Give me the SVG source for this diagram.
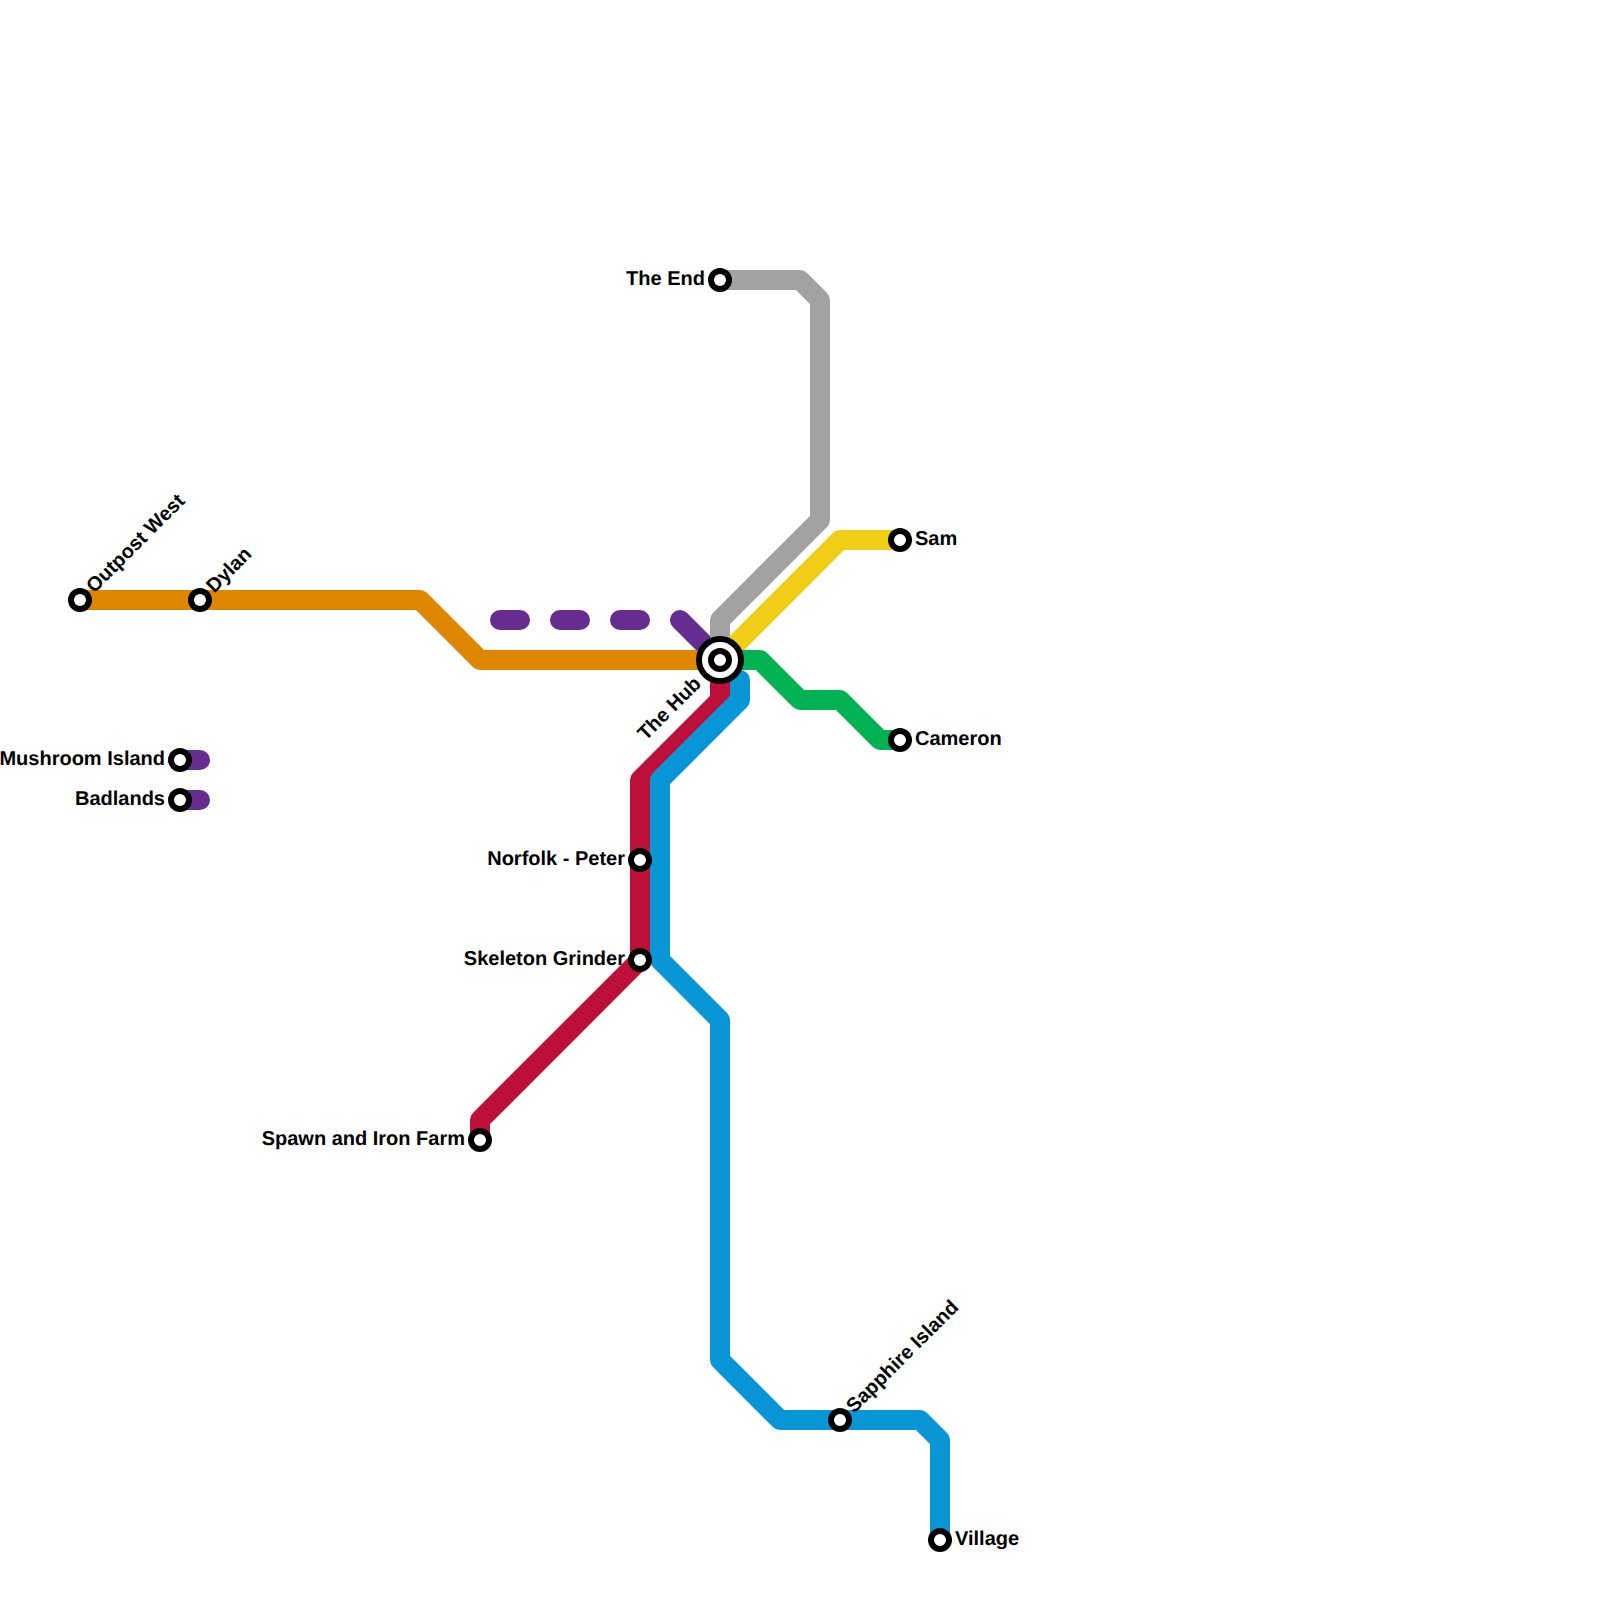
<svg xmlns="http://www.w3.org/2000/svg" width="1600" height="1600" viewBox="0 0 1600 1600">
<style>
.line{fill:none;stroke-width:20;stroke-linecap:round;stroke-linejoin:round}
.orange{stroke:#df8600}.gray{stroke:#a2a2a2}.yellow{stroke:#f0ce15}.green{stroke:#00b251}.red{stroke:#bd1038}.blue{stroke:#0896d7}.purple{stroke:#662c90}
.st{fill:#fff;stroke:#000;stroke-width:6}
text{font-family:"Liberation Sans",Arial,sans-serif;font-size:20px;font-weight:700;fill:#000;dominant-baseline:central;text-rendering:geometricPrecision}
.e{text-anchor:end}
</style>
<rect width="1600" height="1600" fill="#fff"/>
<g id="connectors">
<path class="line purple" d="M500 620H520M560 620H580M620 620H640M680 620L720 660M180 760H200M180 800H200"/>
<path class="line gray" d="M720 280H800L820 300V520L720 620V660"/>
<path class="line yellow" d="M720 660L840 540H900"/>
<path class="line green" d="M720 660H760L800 700H840L880 740H900"/>
<path class="line orange" d="M80 600H420L480 660H720"/>
<path class="line red" d="M720 660V700L640 780V960L480 1120V1140"/>
<path class="line blue" d="M740 680V700L660 780V960L720 1020V1360L780 1420H920L940 1440V1540"/>
</g>
<g id="node-hub"><circle cx="720" cy="660" r="21" fill="#fff" stroke="#000" stroke-width="6"/><circle class="st" cx="720" cy="660" r="9"/><text class="e" transform="translate(698 680.5) rotate(-45)">The Hub</text></g>
<g id="node-outpost-west"><circle class="st" cx="80" cy="600" r="9"/><text transform="translate(90 589.5) rotate(-45)">Outpost West</text></g>
<g id="node-dylan"><circle class="st" cx="200" cy="600" r="9"/><text transform="translate(210 589.5) rotate(-45)">Dylan</text></g>
<g id="node-mushroom-island"><circle class="st" cx="180" cy="760" r="9"/><text class="e" x="165" y="759">Mushroom Island</text></g>
<g id="node-badlands"><circle class="st" cx="180" cy="800" r="9"/><text class="e" x="165" y="799">Badlands</text></g>
<g id="node-the-end"><circle class="st" cx="720" cy="280" r="9"/><text class="e" x="705" y="279">The End</text></g>
<g id="node-sam"><circle class="st" cx="900" cy="540" r="9"/><text x="915" y="539">Sam</text></g>
<g id="node-cameron"><circle class="st" cx="900" cy="740" r="9"/><text x="915" y="739">Cameron</text></g>
<g id="node-norfolk-peter"><circle class="st" cx="640" cy="860" r="9"/><text class="e" x="625" y="859">Norfolk - Peter</text></g>
<g id="node-skeleton-grinder"><circle class="st" cx="640" cy="960" r="9"/><text class="e" x="625" y="959">Skeleton Grinder</text></g>
<g id="node-spawn"><circle class="st" cx="480" cy="1140" r="9"/><text class="e" x="465" y="1139">Spawn and Iron Farm</text></g>
<g id="node-sapphire-island"><circle class="st" cx="840" cy="1420" r="9"/><text transform="translate(850 1409.5) rotate(-45)">Sapphire Island</text></g>
<g id="node-village"><circle class="st" cx="940" cy="1540" r="9"/><text x="955" y="1539">Village</text></g>
</svg>
